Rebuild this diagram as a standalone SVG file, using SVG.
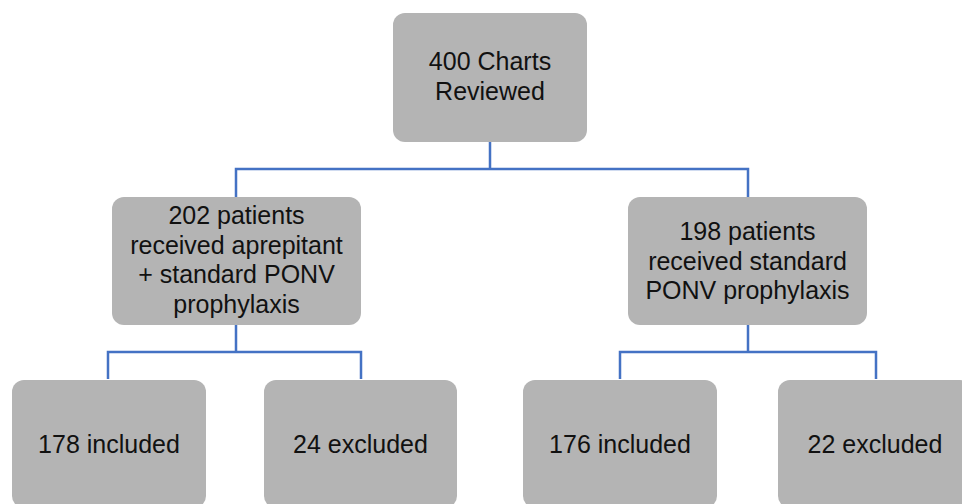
<svg xmlns="http://www.w3.org/2000/svg" width="962" height="504" viewBox="0 0 962 504">
<style>
.box{fill:#b4b4b4;}
.t{font-family:"Liberation Sans","Arimo",sans-serif;font-size:25px;fill:#111;text-anchor:middle;}
.c{fill:none;stroke:#4472c4;stroke-width:2.5;}
</style>
<rect width="962" height="504" fill="#ffffff"/>
<g id="connectors">
<path class="c" d="M490,142 V169 M236,197 V169 H748 V197"/>
<path class="c" d="M236,325 V352 M108,379 V352 H361 V379"/>
<path class="c" d="M748,325 V352 M620,379 V352 H876 V379"/>
</g>
<g id="n400">
<rect class="box" x="393" y="13" width="194" height="129" rx="12"/>
<text class="t" x="490" y="70">400 Charts</text>
<text class="t" x="490" y="100">Reviewed</text>
</g>
<g id="n202">
<rect class="box" x="112" y="197" width="249" height="128" rx="12"/>
<text class="t" x="236.5" y="224">202 patients</text>
<text class="t" x="236.5" y="253.5">received aprepitant</text>
<text class="t" x="236.5" y="283">+ standard PONV</text>
<text class="t" x="236.5" y="312.5">prophylaxis</text>
</g>
<g id="n198">
<rect class="box" x="628" y="197" width="239" height="128" rx="12"/>
<text class="t" x="747.5" y="240">198 patients</text>
<text class="t" x="747.5" y="269.5">received standard</text>
<text class="t" x="747.5" y="299">PONV prophylaxis</text>
</g>
<g id="n178">
<rect class="box" x="12" y="380" width="194" height="128" rx="12"/>
<text class="t" x="109" y="453">178 included</text>
</g>
<g id="n24">
<rect class="box" x="264" y="380" width="193" height="128" rx="12"/>
<text class="t" x="360.5" y="453">24 excluded</text>
</g>
<g id="n176">
<rect class="box" x="523" y="380" width="194" height="128" rx="12"/>
<text class="t" x="620" y="453">176 included</text>
</g>
<g id="n22">
<rect class="box" x="778" y="380" width="194" height="128" rx="12"/>
<text class="t" x="875" y="453">22 excluded</text>
</g>
</svg>
